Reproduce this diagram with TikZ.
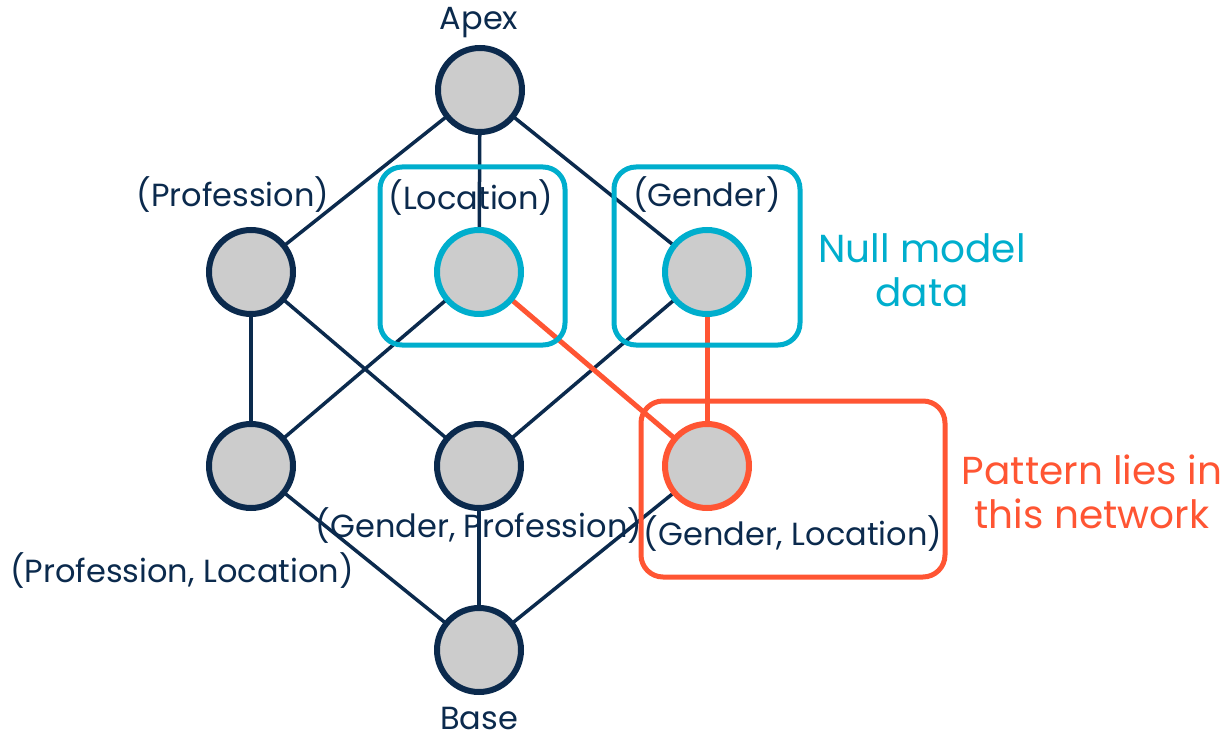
\documentclass[tikz,border=0pt]{standalone}
\usepackage{fontspec}
\setmainfont{Poppins}
\definecolor{navy}{HTML}{0B2A4D}
\definecolor{cyanc}{HTML}{00AECD}
\definecolor{orangec}{HTML}{FF5533}
\definecolor{grayc}{HTML}{CCCCCC}
\begin{document}
\begin{tikzpicture}[x=1pt,y=-1pt,
  vert/.style={circle,draw=navy,fill=grayc,line width=6pt,minimum size=84pt,inner sep=0pt},
  edge/.style={draw=navy,line width=3.5pt},
  hedge/.style={draw=orangec,line width=5pt},
  lbl/.style={text=navy,font=\fontsize{32}{38}\selectfont,anchor=base,inner sep=0pt},
  grp/.style={rounded corners=22pt,line width=5pt},
  note/.style={font=\fontsize{39}{44}\selectfont,align=center,inner sep=0pt}]
\useasboundingbox (0,0) rectangle (1224,738);
% labels
\node[lbl] (lapex) at (479,30) {Apex};
\node[lbl] (lprof) at (233,207) {(Profession)};
\node[lbl] (lloc) at (471,210) {(Location)};
\node[lbl] (lgen) at (707,207) {(Gender)};
\node[lbl] (lpl) at (182,582) {(Profession, Location)};
\node[lbl] (lgp) at (479,537) {(Gender, Profession)};
\node[lbl] (lgl) at (793,545) {(Gender, Location)};
\node[lbl] (lbase) at (479,729) {Base};
\node[note,text=cyanc] (nnull) at (922,270) {Null model\\data};
\node[note,text=orangec] (npat) at (1092,492) {Pattern lies in\\this network};
% coordinates of vertices
\coordinate (apex) at (480,90);
\coordinate (prof) at (251,272);
\coordinate (loc) at (479,272);
\coordinate (gen) at (707,272);
\coordinate (pl) at (251,466);
\coordinate (gp) at (479,466);
\coordinate (gl) at (707,466);
\coordinate (base) at (479,650);
% edges
\draw[edge] (apex) -- (prof);
\draw[edge] (apex) -- (loc);
\draw[edge] (apex) -- (gen);
\draw[edge] (prof) -- (pl);
\draw[edge] (prof) -- (gp);
\draw[edge] (loc) -- (pl);
\draw[edge] (gen) -- (gp);
\draw[edge] (pl) -- (base);
\draw[edge] (gp) -- (base);
\draw[edge] (gl) -- (base);
\draw[hedge] (loc) -- (gl);
\draw[hedge] (gen) -- (gl);
% groups
\draw[grp,draw=cyanc] (380,167) rectangle (565,345);
\draw[grp,draw=cyanc] (614,167) rectangle (800,345);
\draw[grp,draw=orangec] (641,401) rectangle (945,577);
% vertices
\node[vert] (vapex) at (apex) {};
\node[vert] (vprof) at (prof) {};
\node[vert,draw=cyanc] (vloc) at (loc) {};
\node[vert,draw=cyanc] (vgen) at (gen) {};
\node[vert] (vpl) at (pl) {};
\node[vert] (vgp) at (gp) {};
\node[vert,draw=orangec] (vgl) at (gl) {};
\node[vert] (vbase) at (base) {};
\end{tikzpicture}
\end{document}
